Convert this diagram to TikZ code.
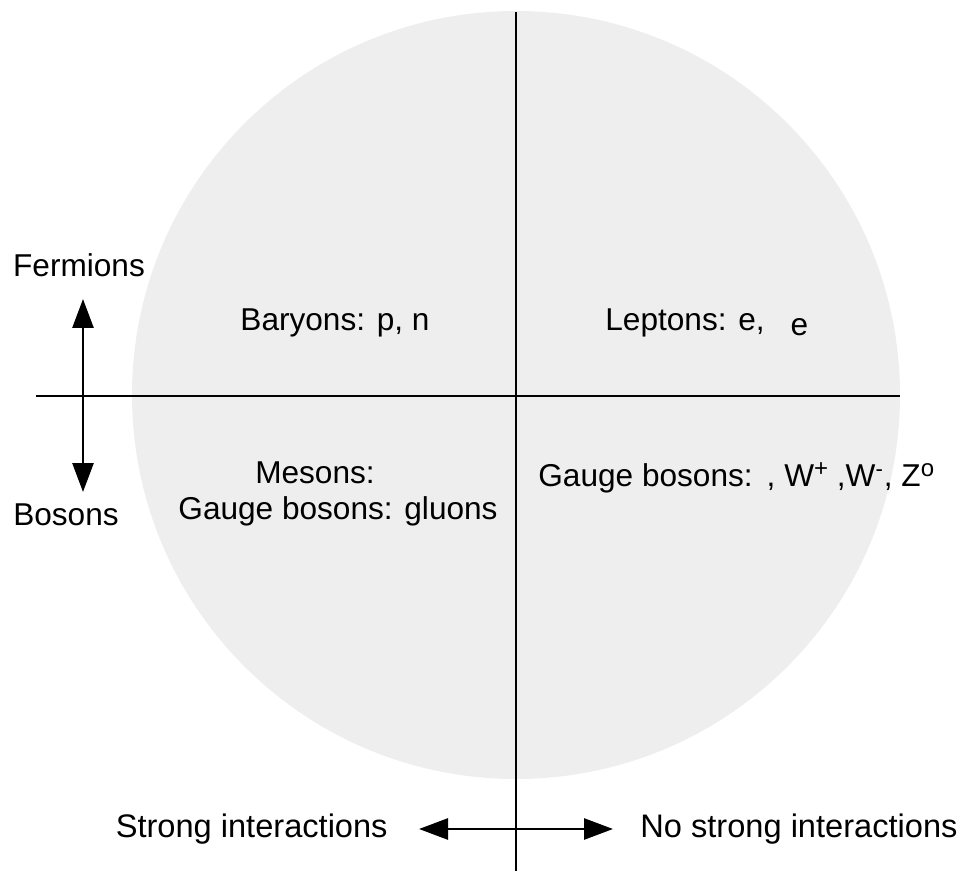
\documentclass[tikz,border=0pt]{standalone}
\usepackage{fontspec}
\setmainfont{Liberation Sans}
\usetikzlibrary{arrows.meta}
\definecolor{discgray}{RGB}{238,238,238}
\tikzset{
  labeltext/.style={font=\fontsize{15.8}{19}\selectfont, inner sep=0pt},
  bottomtext/.style={font=\fontsize{16.3}{19}\selectfont, inner sep=0pt},
  axisline/.style={line width=1.25pt},
  dirarrow/.style={line width=1.35pt, {Triangle[length=14.5pt,width=10.5pt]}-{Triangle[length=14.5pt,width=10.5pt]}},
}
\newcommand{\supmark}[1]{\raisebox{0.32em}{\fontsize{12}{12}\selectfont #1}}
\begin{document}
\begin{tikzpicture}[x=0.5pt,y=-0.5pt]
  \useasboundingbox (0,0) rectangle (958,871);
  % disc
  \fill[discgray] (516,395) circle (384);
  % axes
  \coordinate (axtop) at (516,12);
  \coordinate (axbot) at (516,871);
  \coordinate (axleft) at (36,396);
  \coordinate (axright) at (900,396);
  \draw[axisline] (axtop) -- (axbot);
  \draw[axisline] (axleft) -- (axright);
  % quadrant labels
  \node[labeltext, anchor=base] (baryons) at (335,331) {Baryons: p, n};
  \node[labeltext, anchor=base west] (leptons) at (605,331) {Leptons: e,\hspace{13pt}\raisebox{-2.5pt}{e}};
  \node[labeltext, anchor=base] (mesons) at (315,483) {Mesons:};
  \node[labeltext, anchor=base] (gluons) at (338,519) {Gauge bosons: gluons};
  \node[labeltext, anchor=base west] (gauge) at (538,487) {Gauge bosons:\hspace{7pt}, W\supmark{+} ,W\textsuperscript{-}, Z\supmark{o}};
  % fermion / boson arrow
  \node[labeltext, anchor=base] (fermions) at (79,277) {Fermions};
  \node[labeltext, anchor=base] (bosons) at (66,525) {Bosons};
  \coordinate (fup) at (83,299);
  \coordinate (fdown) at (83,492);
  \draw[dirarrow] (fup) -- (fdown);
  % interaction arrow
  \node[bottomtext, anchor=east] (strong) at (388,829) {Strong interactions};
  \node[bottomtext, anchor=west] (nostrong) at (640,829) {No strong interactions};
  \coordinate (sleft) at (419,829);
  \coordinate (sright) at (613,829);
  \draw[dirarrow] (sleft) -- (sright);
\end{tikzpicture}
\end{document}
